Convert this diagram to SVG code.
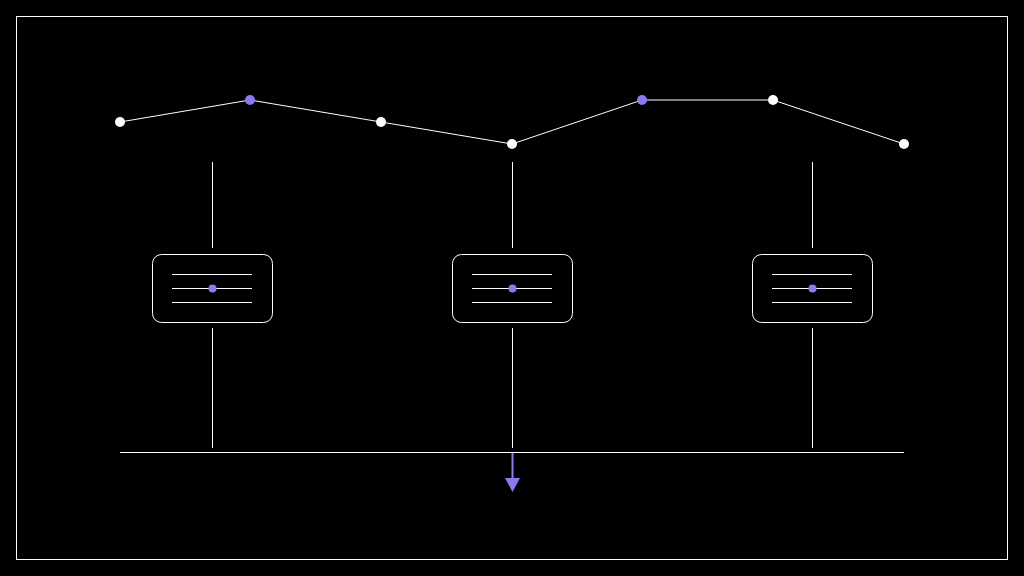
<svg xmlns="http://www.w3.org/2000/svg" width="1024" height="576" viewBox="0 0 1024 576">
<style>
.ln{stroke:#ffffff;stroke-width:1;fill:none}
.box{fill:#000000;stroke:#ffffff;stroke-width:1}
.w{fill:#ffffff}
.p{fill:#8a7cf0}
</style>
<rect x="0" y="0" width="1024" height="576" fill="#000000"/>
<rect x="16.5" y="16.5" width="991" height="543" class="ln"/>
<g id="connectors">
<polyline class="ln" points="120,122 250,100 381,122 512,144 642,100 773,100 904,144"/>
<line class="ln" x1="212.5" y1="162" x2="212.5" y2="248"/>
<line class="ln" x1="212.5" y1="328" x2="212.5" y2="448"/>
<line class="ln" x1="512.5" y1="162" x2="512.5" y2="248"/>
<line class="ln" x1="512.5" y1="328" x2="512.5" y2="448"/>
<line class="ln" x1="812.5" y1="162" x2="812.5" y2="248"/>
<line class="ln" x1="812.5" y1="328" x2="812.5" y2="448"/>
<line class="ln" x1="120" y1="452.5" x2="904" y2="452.5"/>
<line x1="512.5" y1="453" x2="512.5" y2="479" stroke="#8a7cf0" stroke-width="2"/>
<polygon points="505,478 520,478 512.5,492" fill="#8a7cf0"/>
</g>
<g id="points">
<circle cx="120" cy="122" r="5" class="w"/>
<circle cx="250" cy="100" r="5" class="p"/>
<circle cx="381" cy="122" r="5" class="w"/>
<circle cx="512" cy="144" r="5" class="w"/>
<circle cx="642" cy="100" r="5" class="p"/>
<circle cx="773" cy="100" r="5" class="w"/>
<circle cx="904" cy="144" r="5" class="w"/>
</g>
<g id="node1">
<rect x="152.5" y="254.5" width="120" height="68" rx="9" class="box"/>
<line class="ln" x1="172" y1="274.5" x2="252" y2="274.5"/>
<line class="ln" x1="172" y1="288.5" x2="252" y2="288.5"/>
<line class="ln" x1="172" y1="302.5" x2="252" y2="302.5"/>
<circle cx="212.5" cy="288.5" r="4" class="p"/>
</g>
<g id="node2">
<rect x="452.5" y="254.5" width="120" height="68" rx="9" class="box"/>
<line class="ln" x1="472" y1="274.5" x2="552" y2="274.5"/>
<line class="ln" x1="472" y1="288.5" x2="552" y2="288.5"/>
<line class="ln" x1="472" y1="302.5" x2="552" y2="302.5"/>
<circle cx="512.5" cy="288.5" r="4" class="p"/>
</g>
<g id="node3">
<rect x="752.5" y="254.5" width="120" height="68" rx="9" class="box"/>
<line class="ln" x1="772" y1="274.5" x2="852" y2="274.5"/>
<line class="ln" x1="772" y1="288.5" x2="852" y2="288.5"/>
<line class="ln" x1="772" y1="302.5" x2="852" y2="302.5"/>
<circle cx="812.5" cy="288.5" r="4" class="p"/>
</g>
</svg>
